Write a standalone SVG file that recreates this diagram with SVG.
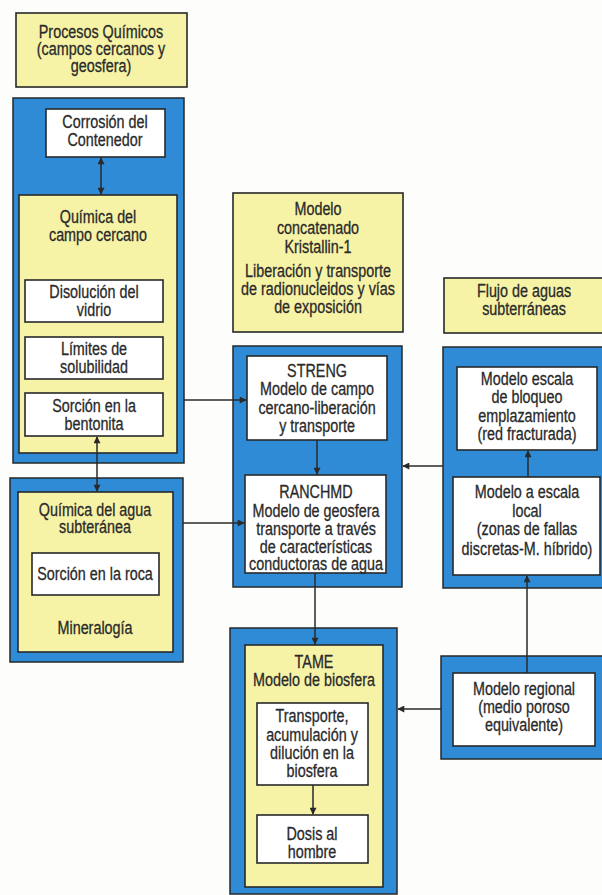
<svg xmlns="http://www.w3.org/2000/svg" width="602" height="895" viewBox="0 0 602 895">
  <style>
    .blue { fill: #2f8bd5; stroke: #26282a; stroke-width: 1.5; }
    .yel { fill: #f6f3a6; stroke: #26282a; stroke-width: 1.6; }
    .wht { fill: #ffffff; stroke: #26282a; stroke-width: 1.6; }
    .t { font-family: "Liberation Sans", Arial, sans-serif; font-size: 17.5px; fill: #2a2a2a; text-anchor: middle; stroke: #2a2a2a; stroke-width: 0.3; }
    .ln { fill: none; stroke: #2a2a2a; stroke-width: 1.5; }
  </style>
  <defs>
    <marker id="ah" viewBox="0 0 10 10" refX="9" refY="5" markerWidth="9" markerHeight="7" markerUnits="userSpaceOnUse" orient="auto-start-reverse">
      <path d="M0,0 L10,5 L0,10 z" fill="#2a2a2a"/>
    </marker>
  </defs>
  <rect width="602" height="895" fill="#fdfdfb"/>

  <!-- chemistry: title -->
  <g id="procesos-quimicos">
    <rect class="yel" x="16" y="13" width="171" height="74"/>
    <g transform="translate(101 0) scale(0.82 1)">
      <text class="t" x="0" y="38">Procesos  Químicos</text>
      <text class="t" x="0" y="55">(campos cercanos y</text>
      <text class="t" x="0" y="72">geosfera)</text>
    </g>
  </g>

  <!-- near-field chemistry panel -->
  <g id="panel-campo-cercano">
    <rect class="blue" x="13" y="98" width="171" height="365"/>
  </g>
  <g id="corrosion">
    <rect class="wht" x="46" y="109" width="119" height="48"/>
    <g transform="translate(105 0) scale(0.82 1)">
      <text class="t" x="0" y="128">Corrosión del</text>
      <text class="t" x="0" y="146">Contenedor</text>
    </g>
  </g>
  <g id="quimica-campo-cercano">
    <rect class="yel" x="19" y="195" width="158" height="258"/>
    <g transform="translate(98 0) scale(0.82 1)">
      <text class="t" x="0" y="223">Química del</text>
      <text class="t" x="0" y="241">campo cercano</text>
    </g>
  </g>
  <g id="disolucion">
    <rect class="wht" x="25" y="280" width="138" height="42"/>
    <g transform="translate(94 0) scale(0.82 1)">
      <text class="t" x="0" y="298">Disolución del</text>
      <text class="t" x="0" y="316">vidrio</text>
    </g>
  </g>
  <g id="limites">
    <rect class="wht" x="25" y="337" width="138" height="42"/>
    <g transform="translate(94 0) scale(0.82 1)">
      <text class="t" x="0" y="355">Límites de</text>
      <text class="t" x="0" y="373">solubilidad</text>
    </g>
  </g>
  <g id="sorcion-bentonita">
    <rect class="wht" x="25" y="393" width="138" height="43"/>
    <g transform="translate(94 0) scale(0.82 1)">
      <text class="t" x="0" y="412">Sorción en la</text>
      <text class="t" x="0" y="430">bentonita</text>
    </g>
  </g>

  <!-- groundwater chemistry panel -->
  <g id="panel-agua-subteranea">
    <rect class="blue" x="10" y="478" width="173" height="184"/>
  </g>
  <g id="quimica-agua">
    <rect class="yel" x="18" y="492" width="155" height="160"/>
    <g transform="translate(95 0) scale(0.82 1)">
      <text class="t" x="0" y="516">Química del agua</text>
      <text class="t" x="0" y="533">subteránea</text>
      <text class="t" x="0" y="634">Mineralogía</text>
    </g>
  </g>
  <g id="sorcion-roca">
    <rect class="wht" x="32" y="553" width="127" height="42"/>
    <g transform="translate(95 0) scale(0.82 1)">
      <text class="t" x="0" y="580">Sorción en la roca</text>
    </g>
  </g>

  <!-- Kristallin-1 title -->
  <g id="kristallin">
    <rect class="yel" x="233" y="193" width="170" height="139"/>
    <g transform="translate(318 0) scale(0.82 1)">
      <text class="t" x="0" y="215">Modelo</text>
      <text class="t" x="0" y="234">concatenado</text>
      <text class="t" x="0" y="253">Kristallin-1</text>
      <text class="t" x="0" y="277">Liberación y transporte</text>
      <text class="t" x="0" y="295">de radionucleidos y vías</text>
      <text class="t" x="0" y="313">de exposición</text>
    </g>
  </g>

  <!-- release and transport panel -->
  <g id="panel-transporte">
    <rect class="blue" x="233" y="346" width="169" height="241"/>
  </g>
  <g id="streng">
    <rect class="wht" x="247" y="356" width="140" height="84"/>
    <g transform="translate(317 0) scale(0.82 1)">
      <text class="t" x="0" y="377">STRENG</text>
      <text class="t" x="0" y="395">Modelo de campo</text>
      <text class="t" x="0" y="414">cercano-liberación</text>
      <text class="t" x="0" y="432">y transporte</text>
    </g>
  </g>
  <g id="ranchmd">
    <rect class="wht" x="245" y="475" width="141" height="98"/>
    <g transform="translate(316 0) scale(0.82 1)">
      <text class="t" x="0" y="498">RANCHMD</text>
      <text class="t" x="0" y="517">Modelo de geosfera</text>
      <text class="t" x="0" y="535">transporte a través</text>
      <text class="t" x="0" y="553">de características</text>
      <text class="t" x="0" y="570">conductoras de agua</text>
    </g>
  </g>

  <!-- biosphere panel -->
  <g id="panel-biosfera">
    <rect class="blue" x="230" y="628" width="167" height="266"/>
  </g>
  <g id="tame">
    <rect class="yel" x="245" y="645" width="138" height="242"/>
    <g transform="translate(314 0) scale(0.82 1)">
      <text class="t" x="0" y="668">TAME</text>
      <text class="t" x="0" y="686">Modelo de biosfera</text>
    </g>
  </g>
  <g id="transporte-biosfera">
    <rect class="wht" x="257" y="703" width="111" height="82"/>
    <g transform="translate(312 0) scale(0.82 1)">
      <text class="t" x="0" y="722">Transporte,</text>
      <text class="t" x="0" y="741">acumulación y</text>
      <text class="t" x="0" y="759">dilución en la</text>
      <text class="t" x="0" y="777">biosfera</text>
    </g>
  </g>
  <g id="dosis">
    <rect class="wht" x="257" y="815" width="111" height="48"/>
    <g transform="translate(312 0) scale(0.82 1)">
      <text class="t" x="0" y="840">Dosis al</text>
      <text class="t" x="0" y="858">hombre</text>
    </g>
  </g>

  <!-- groundwater flow title -->
  <g id="flujo">
    <rect class="yel" x="444" y="278" width="162" height="55"/>
    <g transform="translate(524 0) scale(0.82 1)">
      <text class="t" x="0" y="297">Flujo de aguas</text>
      <text class="t" x="0" y="315">subterráneas</text>
    </g>
  </g>

  <!-- groundwater flow panel -->
  <g id="panel-flujo">
    <rect class="blue" x="443" y="347" width="163" height="241"/>
  </g>
  <g id="bloqueo">
    <rect class="wht" x="457" y="367" width="140" height="83"/>
    <g transform="translate(527 0) scale(0.82 1)">
      <text class="t" x="0" y="385">Modelo escala</text>
      <text class="t" x="0" y="403">de bloqueo</text>
      <text class="t" x="0" y="422">emplazamiento</text>
      <text class="t" x="0" y="440">(red fracturada)</text>
    </g>
  </g>
  <g id="escala-local">
    <rect class="wht" x="453" y="477" width="147" height="98"/>
    <g transform="translate(527 0) scale(0.82 1)">
      <text class="t" x="0" y="498">Modelo a escala</text>
      <text class="t" x="0" y="517">local</text>
      <text class="t" x="0" y="535">(zonas de fallas</text>
      <text class="t" x="0" y="555">discretas-M. híbrido)</text>
    </g>
  </g>

  <!-- regional model panel -->
  <g id="panel-regional">
    <rect class="blue" x="441" y="656" width="165" height="103"/>
  </g>
  <g id="regional">
    <rect class="wht" x="453" y="673" width="142" height="73"/>
    <g transform="translate(524 0) scale(0.82 1)">
      <text class="t" x="0" y="695">Modelo regional</text>
      <text class="t" x="0" y="713">(medio poroso</text>
      <text class="t" x="0" y="731">equivalente)</text>
    </g>
  </g>

  <!-- connectors -->
  <g id="connectors">
    <line class="ln" x1="101" y1="158" x2="101" y2="194" marker-start="url(#ah)" marker-end="url(#ah)"/>
    <line class="ln" x1="97" y1="437" x2="97" y2="491" marker-start="url(#ah)" marker-end="url(#ah)"/>
    <line class="ln" x1="184" y1="400" x2="246" y2="400" marker-end="url(#ah)"/>
    <line class="ln" x1="183" y1="523" x2="244" y2="523" marker-end="url(#ah)"/>
    <line class="ln" x1="317" y1="440" x2="317" y2="474" marker-end="url(#ah)"/>
    <line class="ln" x1="443" y1="466" x2="403" y2="466" marker-end="url(#ah)"/>
    <line class="ln" x1="315" y1="573" x2="315" y2="644" marker-end="url(#ah)"/>
    <line class="ln" x1="441" y1="709" x2="398" y2="709" marker-end="url(#ah)"/>
    <line class="ln" x1="527" y1="673" x2="527" y2="576" marker-end="url(#ah)"/>
    <line class="ln" x1="528" y1="477" x2="528" y2="451" marker-end="url(#ah)"/>
    <line class="ln" x1="313" y1="785" x2="313" y2="814" marker-end="url(#ah)"/>
  </g>
</svg>
